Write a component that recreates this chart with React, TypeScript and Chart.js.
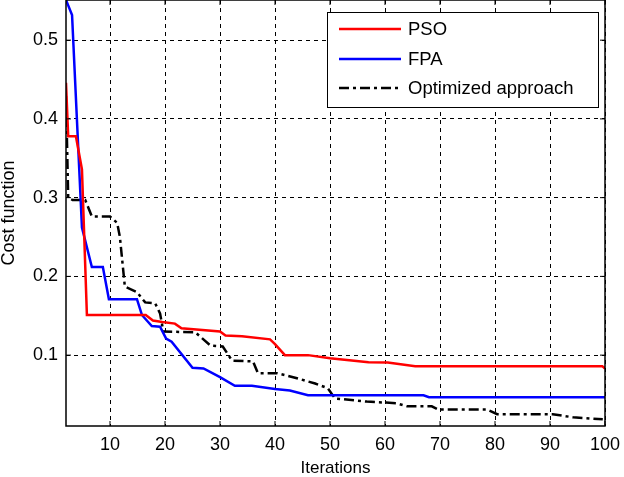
import React, { useEffect, useRef } from 'react';
import { Chart, registerables } from 'chart.js';

Chart.register(...registerables);

const seriesLabels = ['PSO', 'FPA', 'Optimized approach'];

const psoX = [2, 2.4, 3.8, 4.9, 5.8, 16.5, 17.8, 19.5, 21.8, 23, 30, 31, 34, 39.1, 40, 41.8, 46, 50, 57, 60.5, 65.5, 99.5, 100];
const psoY = [0.446, 0.378, 0.378, 0.336, 0.151, 0.151, 0.144, 0.142, 0.14, 0.134, 0.13, 0.125, 0.124, 0.12, 0.114, 0.1, 0.1, 0.096, 0.091, 0.0905, 0.086, 0.086, 0.083];

const fpaX = [2, 3.1, 4.9, 6.7, 8.7, 9.8, 14.9, 15.8, 17.6, 19.1, 20.2, 21.2, 25, 27, 30, 32.7, 35.8, 40, 42.7, 46, 67, 68, 100];
const fpaY = [0.551, 0.532, 0.262, 0.212, 0.212, 0.171, 0.171, 0.151, 0.137, 0.136, 0.121, 0.117, 0.084, 0.083, 0.072, 0.061, 0.061, 0.057, 0.055, 0.049, 0.049, 0.0465, 0.0465];

const optX = [2, 2.4, 3.2, 5.5, 6.7, 10, 11.3, 11.8, 12.7, 14.9, 16.4, 18.2, 19.1, 19.7, 25.5, 28.3, 30.5, 32.2, 36, 36.9, 40.4, 43.3, 47.3, 49.6, 50.9, 56.7, 62, 64, 68.5, 69.7, 78.5, 80.4, 90.5, 94.2, 99.6];
const optY = [0.429, 0.3, 0.297, 0.297, 0.276, 0.276, 0.268, 0.25, 0.187, 0.18, 0.167, 0.166, 0.153, 0.13, 0.129, 0.112, 0.111, 0.093, 0.092, 0.077, 0.077, 0.072, 0.064, 0.058, 0.045, 0.041, 0.039, 0.035, 0.035, 0.031, 0.031, 0.025, 0.025, 0.021, 0.0185];

const xTicks = [10, 20, 30, 40, 50, 60, 70, 80, 90, 100];
const xTickLabels = ['10', '20', '30', '40', '50', '60', '70', '80', '90', '100'];
const yTicks = [0.1, 0.2, 0.3, 0.4, 0.5];
const yTickLabels = ['0.1', '0.2', '0.3', '0.4', '0.5'];

const FONT = "'Liberation Sans', Arial, sans-serif";

const toPoints = (xs: number[], ys: number[]) => xs.map((x, i) => ({ x, y: ys[i] }));

const framePlugin = {
  id: 'matlabFrame',
  afterDatasetsDraw(chart: any) {
    const { ctx, chartArea: a, scales } = chart;
    ctx.save();
    ctx.setLineDash([]);
    ctx.strokeStyle = '#000';
    ctx.lineWidth = 1.5;
    ctx.strokeRect(a.left, a.top, a.right - a.left, a.bottom - a.top);
    ctx.lineWidth = 1;
    ctx.beginPath();
    xTicks.forEach((v) => {
      const px = scales.x.getPixelForValue(v);
      ctx.moveTo(px, a.bottom);
      ctx.lineTo(px, a.bottom - 5);
      ctx.moveTo(px, a.top);
      ctx.lineTo(px, a.top + 5);
    });
    yTicks.forEach((v) => {
      const py = scales.y.getPixelForValue(v);
      ctx.moveTo(a.left, py);
      ctx.lineTo(a.left + 5, py);
      ctx.moveTo(a.right, py);
      ctx.lineTo(a.right - 5, py);
    });
    ctx.stroke();
    ctx.restore();
  },
  afterDraw(chart: any) {
    const { ctx, chartArea: a } = chart;
    const boxRight = a.right - 7;
    const boxLeft = boxRight - 271;
    const boxTop = a.top + 12;
    const boxH = 95;
    ctx.save();
    ctx.fillStyle = '#fff';
    ctx.fillRect(boxLeft, boxTop, boxRight - boxLeft, boxH);
    ctx.strokeStyle = '#000';
    ctx.lineWidth = 1;
    ctx.setLineDash([]);
    ctx.strokeRect(boxLeft + 0.5, boxTop + 0.5, boxRight - boxLeft, boxH);
    const rows = [29, 59, 88];
    chart.data.datasets.forEach((ds: any, i: number) => {
      const y = a.top + rows[i];
      ctx.save();
      ctx.strokeStyle = ds.borderColor;
      ctx.lineWidth = ds.borderWidth;
      ctx.setLineDash(ds.borderDash || []);
      ctx.beginPath();
      ctx.moveTo(boxLeft + 12, y);
      ctx.lineTo(boxLeft + 74, y);
      ctx.stroke();
      ctx.restore();
      ctx.fillStyle = '#000';
      ctx.font = `18.5px ${FONT}`;
      ctx.textBaseline = 'middle';
      ctx.textAlign = 'left';
      ctx.fillText(ds.label, boxLeft + 81, y + 1);
    });
    ctx.restore();
  },
};

export default function App() {
  const canvasRef = useRef<HTMLCanvasElement | null>(null);

  useEffect(() => {
    if (!canvasRef.current) return;
    const chart = new Chart(canvasRef.current, {
      type: 'line',
      data: {
        datasets: [
          {
            label: seriesLabels[0],
            data: toPoints(psoX, psoY),
            borderColor: '#ff0000',
            borderWidth: 2.5,
            pointRadius: 0,
            tension: 0,
            fill: false,
          },
          {
            label: seriesLabels[1],
            data: toPoints(fpaX, fpaY),
            borderColor: '#0000ff',
            borderWidth: 2.5,
            pointRadius: 0,
            tension: 0,
            fill: false,
          },
          {
            label: seriesLabels[2],
            data: toPoints(optX, optY),
            borderColor: '#000000',
            borderWidth: 2.5,
            borderDash: [10, 4, 3, 4],
            pointRadius: 0,
            tension: 0,
            fill: false,
          },
        ],
      },
      options: {
        animation: false,
        responsive: false,
        maintainAspectRatio: false,
        layout: { padding: { left: 0, right: 19, top: 0, bottom: 0 } },
        plugins: {
          legend: { display: false },
          tooltip: { enabled: false },
        },
        scales: {
          x: {
            type: 'linear',
            min: 2,
            max: 100,
            afterBuildTicks: (scale: any) => {
              scale.ticks = xTicks.map((v) => ({ value: v }));
            },
            afterFit: (scale: any) => {
              scale.height = 51;
              scale.paddingLeft = 0;
              scale.paddingRight = 0;
            },
            ticks: {
              autoSkip: false,
              maxRotation: 0,
              padding: 8,
              color: '#000',
              font: { family: FONT, size: 18 },
              callback: (v: any) => {
                const i = xTicks.indexOf(Number(v));
                return i >= 0 ? xTickLabels[i] : '';
              },
            },
            grid: { color: '#000', lineWidth: 1, drawTicks: false },
            border: { display: false, dash: [4, 4] },
            title: {
              display: true,
              text: 'Iterations',
              color: '#000',
              font: { family: FONT, size: 17, lineHeight: 1 },
              padding: { top: 0, bottom: 0 },
            },
          },
          y: {
            type: 'linear',
            min: 0.01,
            max: 0.551,
            afterBuildTicks: (scale: any) => {
              scale.ticks = yTicks.map((v) => ({ value: v }));
            },
            afterFit: (scale: any) => {
              scale.width = 66;
              scale.paddingTop = 0;
              scale.paddingBottom = 0;
            },
            ticks: {
              autoSkip: false,
              padding: 8,
              color: '#000',
              font: { family: FONT, size: 18 },
              callback: (v: any) => {
                const i = yTicks.findIndex((t) => Math.abs(t - Number(v)) < 1e-9);
                return i >= 0 ? yTickLabels[i] : '';
              },
            },
            grid: { color: '#000', lineWidth: 1, drawTicks: false },
            border: { display: false, dash: [4, 4] },
            title: {
              display: true,
              text: 'Cost function',
              color: '#000',
              font: { family: FONT, size: 18, lineHeight: 1 },
              padding: { top: 0, bottom: 0 },
            },
          },
        },
      },
      plugins: [framePlugin],
    });
    return () => chart.destroy();
  }, []);

  return (
    <div style={{ position: 'absolute', left: 0, top: 0, width: 624, height: 477 }}>
      <canvas ref={canvasRef} width={624} height={477} style={{ display: 'block' }} />
    </div>
  );
}
